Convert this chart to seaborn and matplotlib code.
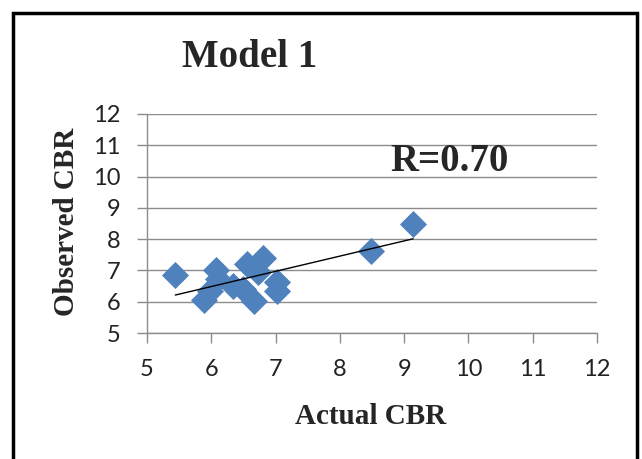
import matplotlib
matplotlib.use("Agg")
import matplotlib.pyplot as plt
import matplotlib.patches as patches
import seaborn as sns
import pandas as pd

# valores
actual_cbr = [5.44, 9.14, 8.49, 5.89, 6.08, 6.11, 5.98, 6.34, 6.56, 6.80, 6.73, 6.50, 6.66, 7.02, 7.02]
observed_cbr = [6.86, 8.48, 7.62, 6.06, 7.00, 6.72, 6.35, 6.51, 7.20, 7.40, 6.94, 6.40, 6.02, 6.62, 6.33]
ticks = [5, 6, 7, 8, 9, 10, 11, 12]

df = pd.DataFrame({"Actual CBR": actual_cbr, "Observed CBR": observed_cbr})

sns.set_style("white")
plt.rcParams["font.family"] = ["Lato", "DejaVu Sans"]

fig = plt.figure(figsize=(6.42, 4.59), dpi=100)
ax = fig.add_axes([147 / 642, 1 - 333 / 459, 450 / 642, 219 / 459])

sns.regplot(data=df, x="Actual CBR", y="Observed CBR", ax=ax, ci=None, truncate=True,
            marker="D", scatter_kws={"s": 190, "color": "#4F81BD", "alpha": 1, "linewidths": 0, "zorder": 3},
            line_kws={"color": "black", "linewidth": 1, "zorder": 4})

ax.set_xlim(5, 12)
ax.set_ylim(5, 12)
ax.set_xticks(ticks)
ax.set_yticks(ticks)
ax.yaxis.grid(True, color="#8c8c8c", linewidth=1)
ax.set_axisbelow(True)
for s in ["top", "right"]:
    ax.spines[s].set_visible(False)
for s in ["left", "bottom"]:
    ax.spines[s].set_color("#8c8c8c")
    ax.spines[s].set_linewidth(1)
ax.tick_params(axis="both", direction="out", length=7, width=1, color="#8c8c8c",
               labelsize=17, labelcolor="#222222")
ax.tick_params(axis="x", bottom=True, pad=12)
ax.tick_params(axis="y", left=True, pad=12)
ax.set_xlabel("")
ax.set_ylabel("")

serif = ["Liberation Serif", "DejaVu Serif"]
fig.text(250 / 642, 1 - 67 / 459, "Model 1", family=serif, weight="bold", fontsize=28, ha="center", va="baseline")
fig.text(450 / 642, 1 - 171 / 459, "R=0.70", family=serif, weight="bold", fontsize=28, ha="center", va="baseline")
fig.text(371 / 642, 1 - 424 / 459, "Actual CBR", family=serif, weight="bold", fontsize=21, ha="center", va="baseline")
fig.text(67 / 642, 1 - 222 / 459, "Observed CBR", family=serif, weight="bold", fontsize=21, ha="center", va="center", rotation=90)

fig.patches.append(patches.Rectangle((13 / 642, -0.05), 624 / 642, 1.05 - 13 / 459, transform=fig.transFigure,
                                     fill=False, edgecolor="black", linewidth=2.5))

fig.savefig("out.png", dpi=100)
